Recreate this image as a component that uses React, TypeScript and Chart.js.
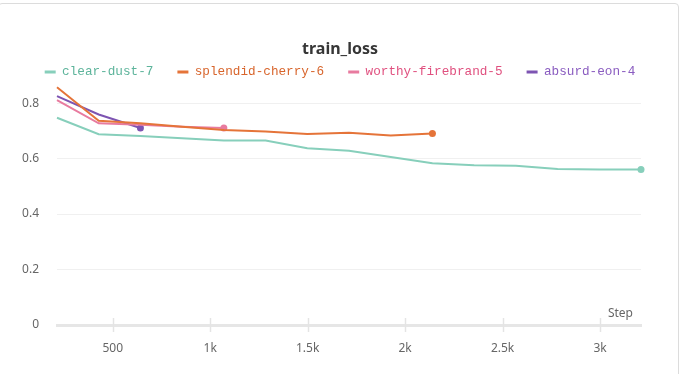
import React, { useEffect, useRef } from "react";
import { Chart, registerables } from "chart.js";

Chart.register(...registerables);

const steps = [214, 428, 642, 856, 1070, 1284, 1498, 1712, 1926, 2140, 2354, 2568, 2782, 2996, 3210];

const clearDust7 = [0.747, 0.688, 0.681, 0.673, 0.665, 0.665, 0.637, 0.628, 0.606, 0.583, 0.576, 0.574, 0.562, 0.561, 0.561];
const splendidCherry6 = [0.857, 0.736, 0.727, 0.715, 0.703, 0.698, 0.689, 0.693, 0.683, 0.69];
const worthyFirebrand5 = [0.811, 0.727, 0.722, 0.715, 0.71];
const absurdEon4 = [0.825, 0.759, 0.71];

const seriesNames = ["clear-dust-7", "splendid-cherry-6", "worthy-firebrand-5", "absurd-eon-4"];
const lineColors = ["#87cfbb", "#e57439", "#e87b9f", "#7d54b2"];
const textColors = ["#5db49b", "#d8652c", "#e0507f", "#8a5cc0"];

const yTicks = [0, 0.2, 0.4, 0.6, 0.8];
const yTickLabels = ["0", "0.2", "0.4", "0.6", "0.8"];
const xTicks = [500, 1000, 1500, 2000, 2500, 3000];
const xTickLabels = ["500", "1k", "1.5k", "2k", "2.5k", "3k"];

const X_MIN = 214;
const X_MAX = 3210;
const Y_MAX = 0.88;

const toPoints = (vals: number[]) => vals.map((v, i) => ({ x: steps[i], y: v }));

export default function App() {
  const ref = useRef<HTMLCanvasElement | null>(null);

  useEffect(() => {
    if (!ref.current) return;
    const allSeries = [clearDust7, splendidCherry6, worthyFirebrand5, absurdEon4];

    const axisDecor = {
      id: "axisDecor",
      afterDraw(chart: any) {
        const { ctx, chartArea, scales } = chart;
        const xs = scales.x;
        ctx.save();
        ctx.strokeStyle = "#e4e4e4";
        ctx.lineWidth = 1.5;
        xTicks.forEach((v) => {
          const px = Math.round(xs.getPixelForValue(v)) + 0.5;
          ctx.beginPath();
          ctx.moveTo(px, chartArea.bottom - 7);
          ctx.lineTo(px, chartArea.bottom + 7);
          ctx.stroke();
        });
        ctx.fillStyle = "#666666";
        ctx.font = "12px 'Noto Sans'";
        ctx.textAlign = "right";
        ctx.textBaseline = "middle";
        ctx.fillText("Step", chartArea.right - 8, chartArea.bottom - 11);
        ctx.restore();
      },
    };

    const chart = new Chart(ref.current, {
      type: "line",
      data: {
        datasets: allSeries.map((vals, i) => ({
          label: seriesNames[i],
          data: toPoints(vals),
          borderColor: lineColors[i],
          backgroundColor: lineColors[i],
          borderWidth: 2,
          tension: 0,
          fill: false,
          clip: 6,
          pointRadius: (c: any) => (c.dataIndex === vals.length - 1 ? 3.5 : 0),
          pointBorderWidth: 0,
          pointHoverRadius: 0,
        })),
      },
      options: {
        animation: false,
        responsive: true,
        maintainAspectRatio: false,
        layout: { padding: { left: 0, right: 0, top: 0, bottom: 0 } },
        plugins: {
          tooltip: { enabled: false },
          title: {
            display: true,
            text: "train_loss",
            color: "#363636",
            font: { family: "'Noto Sans'", size: 16, weight: "bold", lineHeight: 1.2 },
            padding: { top: 40, bottom: -17.5 },
          },
          legend: {
            display: true,
            maxHeight: 39.2,
            labels: {
              boxWidth: 11,
              boxHeight: 3,
              padding: 24,
              font: { family: "'Liberation Mono'", size: 12.7 },
              generateLabels: (ch: any) =>
                ch.data.datasets.map((ds: any, i: number) => ({
                  text: ds.label,
                  fillStyle: lineColors[i],
                  strokeStyle: lineColors[i],
                  lineWidth: 0,
                  fontColor: textColors[i],
                  hidden: false,
                  datasetIndex: i,
                })),
            },
          },
        },
        scales: {
          x: {
            type: "linear",
            min: X_MIN,
            max: X_MAX,
            afterBuildTicks: (s: any) => {
              s.ticks = xTicks.map((v) => ({ value: v }));
            },
            afterFit: (s: any) => {
              s.height = 49;
            },
            grid: { display: false, drawTicks: false },
            border: { display: true, color: "#e6e6e6", width: 3 },
            ticks: {
              padding: 16,
              color: "#666666",
              font: { family: "'Noto Sans'", size: 12 },
              maxRotation: 0,
              autoSkip: false,
              callback: (v: any) => {
                const idx = xTicks.indexOf(Number(v));
                return idx >= 0 ? xTickLabels[idx] : "";
              },
            },
          },
          y: {
            type: "linear",
            min: 0,
            max: Y_MAX,
            afterBuildTicks: (s: any) => {
              s.ticks = yTicks.map((v) => ({ value: v }));
            },
            afterFit: (s: any) => {
              s.width = 57;
            },
            grid: {
              drawTicks: false,
              color: (c: any) => (c.tick && c.tick.value === 0 ? "rgba(0,0,0,0)" : "#f0f0f0"),
              lineWidth: 1,
            },
            border: { display: false },
            ticks: {
              padding: 18,
              color: "#666666",
              font: { family: "'Noto Sans'", size: 12 },
              callback: (v: any) => {
                const idx = yTicks.indexOf(Number(v));
                return idx >= 0 ? yTickLabels[idx] : "";
              },
            },
          },
          yRight: {
            type: "linear",
            position: "right",
            display: true,
            grid: { display: false, drawTicks: false },
            border: { display: false },
            ticks: { display: false },
            afterFit: (s: any) => {
              s.width = 39;
            },
          },
        },
      },
      plugins: [axisDecor],
    } as any);

    return () => chart.destroy();
  }, []);

  return (
    <div style={{ position: "fixed", left: 0, top: 0, width: 680, height: 374, background: "#ffffff", overflow: "hidden" }}>
      <div
        style={{
          position: "absolute",
          left: -2,
          top: 3,
          width: 681,
          height: 390,
          border: "1px solid #dcdcdc",
          borderRadius: 4,
          boxSizing: "border-box",
        }}
      />
      <div style={{ position: "absolute", left: 0, top: 0, width: 680, height: 374 }}>
        <canvas ref={ref} />
      </div>
    </div>
  );
}
